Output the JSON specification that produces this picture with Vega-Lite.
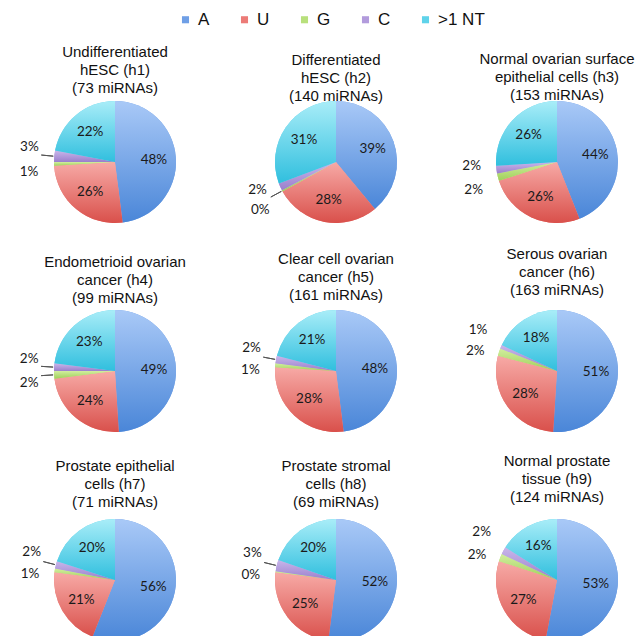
{
  "$schema": "https://vega.github.io/schema/vega-lite/v6.json",
  "background": "white",
  "padding": {"left": 19, "top": 11, "right": 0, "bottom": 0},
  "data": {"values": [
    {"title": "Undifferentiated|hESC (h1)|(73 miRNAs)", "type": "A", "k": 1, "value": 0.48},
    {"title": "Undifferentiated|hESC (h1)|(73 miRNAs)", "type": "U", "k": 2, "value": 0.26},
    {"title": "Undifferentiated|hESC (h1)|(73 miRNAs)", "type": "G", "k": 3, "value": 0.01},
    {"title": "Undifferentiated|hESC (h1)|(73 miRNAs)", "type": "C", "k": 4, "value": 0.03},
    {"title": "Undifferentiated|hESC (h1)|(73 miRNAs)", "type": ">1 NT", "k": 5, "value": 0.22},
    {"title": "Differentiated|hESC (h2)|(140 miRNAs)", "type": "A", "k": 1, "value": 0.39},
    {"title": "Differentiated|hESC (h2)|(140 miRNAs)", "type": "U", "k": 2, "value": 0.28},
    {"title": "Differentiated|hESC (h2)|(140 miRNAs)", "type": "G", "k": 3, "value": 0.003},
    {"title": "Differentiated|hESC (h2)|(140 miRNAs)", "type": "C", "k": 4, "value": 0.02},
    {"title": "Differentiated|hESC (h2)|(140 miRNAs)", "type": ">1 NT", "k": 5, "value": 0.307},
    {"title": "Normal ovarian surface|epithelial cells (h3)|(153 miRNAs)", "type": "A", "k": 1, "value": 0.44},
    {"title": "Normal ovarian surface|epithelial cells (h3)|(153 miRNAs)", "type": "U", "k": 2, "value": 0.26},
    {"title": "Normal ovarian surface|epithelial cells (h3)|(153 miRNAs)", "type": "G", "k": 3, "value": 0.02},
    {"title": "Normal ovarian surface|epithelial cells (h3)|(153 miRNAs)", "type": "C", "k": 4, "value": 0.02},
    {"title": "Normal ovarian surface|epithelial cells (h3)|(153 miRNAs)", "type": ">1 NT", "k": 5, "value": 0.26},
    {"title": "Endometrioid ovarian|cancer (h4)|(99 miRNAs)", "type": "A", "k": 1, "value": 0.49},
    {"title": "Endometrioid ovarian|cancer (h4)|(99 miRNAs)", "type": "U", "k": 2, "value": 0.24},
    {"title": "Endometrioid ovarian|cancer (h4)|(99 miRNAs)", "type": "G", "k": 3, "value": 0.02},
    {"title": "Endometrioid ovarian|cancer (h4)|(99 miRNAs)", "type": "C", "k": 4, "value": 0.02},
    {"title": "Endometrioid ovarian|cancer (h4)|(99 miRNAs)", "type": ">1 NT", "k": 5, "value": 0.23},
    {"title": "Clear cell ovarian|cancer (h5)|(161 miRNAs)", "type": "A", "k": 1, "value": 0.48},
    {"title": "Clear cell ovarian|cancer (h5)|(161 miRNAs)", "type": "U", "k": 2, "value": 0.28},
    {"title": "Clear cell ovarian|cancer (h5)|(161 miRNAs)", "type": "G", "k": 3, "value": 0.01},
    {"title": "Clear cell ovarian|cancer (h5)|(161 miRNAs)", "type": "C", "k": 4, "value": 0.02},
    {"title": "Clear cell ovarian|cancer (h5)|(161 miRNAs)", "type": ">1 NT", "k": 5, "value": 0.21},
    {"title": "Serous ovarian|cancer (h6)|(163 miRNAs)", "type": "A", "k": 1, "value": 0.51},
    {"title": "Serous ovarian|cancer (h6)|(163 miRNAs)", "type": "U", "k": 2, "value": 0.28},
    {"title": "Serous ovarian|cancer (h6)|(163 miRNAs)", "type": "G", "k": 3, "value": 0.02},
    {"title": "Serous ovarian|cancer (h6)|(163 miRNAs)", "type": "C", "k": 4, "value": 0.01},
    {"title": "Serous ovarian|cancer (h6)|(163 miRNAs)", "type": ">1 NT", "k": 5, "value": 0.18},
    {"title": "Prostate epithelial|cells (h7)|(71 miRNAs)", "type": "A", "k": 1, "value": 0.56},
    {"title": "Prostate epithelial|cells (h7)|(71 miRNAs)", "type": "U", "k": 2, "value": 0.21},
    {"title": "Prostate epithelial|cells (h7)|(71 miRNAs)", "type": "G", "k": 3, "value": 0.01},
    {"title": "Prostate epithelial|cells (h7)|(71 miRNAs)", "type": "C", "k": 4, "value": 0.02},
    {"title": "Prostate epithelial|cells (h7)|(71 miRNAs)", "type": ">1 NT", "k": 5, "value": 0.20},
    {"title": "Prostate stromal|cells (h8)|(69 miRNAs)", "type": "A", "k": 1, "value": 0.52},
    {"title": "Prostate stromal|cells (h8)|(69 miRNAs)", "type": "U", "k": 2, "value": 0.25},
    {"title": "Prostate stromal|cells (h8)|(69 miRNAs)", "type": "G", "k": 3, "value": 0.003},
    {"title": "Prostate stromal|cells (h8)|(69 miRNAs)", "type": "C", "k": 4, "value": 0.03},
    {"title": "Prostate stromal|cells (h8)|(69 miRNAs)", "type": ">1 NT", "k": 5, "value": 0.197},
    {"title": "Normal prostate|tissue (h9)|(124 miRNAs)", "type": "A", "k": 1, "value": 0.53},
    {"title": "Normal prostate|tissue (h9)|(124 miRNAs)", "type": "U", "k": 2, "value": 0.27},
    {"title": "Normal prostate|tissue (h9)|(124 miRNAs)", "type": "G", "k": 3, "value": 0.02},
    {"title": "Normal prostate|tissue (h9)|(124 miRNAs)", "type": "C", "k": 4, "value": 0.02},
    {"title": "Normal prostate|tissue (h9)|(124 miRNAs)", "type": ">1 NT", "k": 5, "value": 0.16}
  ]},
  "facet": {
    "field": "title",
    "type": "nominal",
    "sort": [
      "Undifferentiated|hESC (h1)|(73 miRNAs)",
      "Differentiated|hESC (h2)|(140 miRNAs)",
      "Normal ovarian surface|epithelial cells (h3)|(153 miRNAs)",
      "Endometrioid ovarian|cancer (h4)|(99 miRNAs)",
      "Clear cell ovarian|cancer (h5)|(161 miRNAs)",
      "Serous ovarian|cancer (h6)|(163 miRNAs)",
      "Prostate epithelial|cells (h7)|(71 miRNAs)",
      "Prostate stromal|cells (h8)|(69 miRNAs)",
      "Normal prostate|tissue (h9)|(124 miRNAs)"
    ],
    "header": {
      "title": null,
      "labelExpr": "split(datum.value, '|')",
      "labelFont": "Liberation Sans",
      "labelFontSize": 15,
      "labelLineHeight": 18,
      "labelColor": "#111111",
      "labelPadding": -7
    }
  },
  "columns": 3,
  "spacing": {"row": -9, "column": 40},
  "spec": {
    "width": 160,
    "height": 130,
    "view": {"stroke": null},
    "encoding": {
      "theta": {"field": "value", "type": "quantitative", "stack": true, "scale": {"domain": [0, 1]}},
      "order": {"field": "k", "type": "quantitative"}
    },
    "layer": [
      {
        "mark": {"type": "arc", "outerRadius": 61},
        "encoding": {
          "color": {
            "field": "type",
            "type": "nominal",
            "scale": {
              "domain": ["A", "U", "G", "C", ">1 NT"],
              "range": ["#6f9fe6", "#ec7b77", "#b8e07c", "#b29bdc", "#5fd3ea"]
            },
            "legend": {
              "orient": "none",
              "legendX": 142,
              "legendY": -86,
              "direction": "horizontal",
              "title": null,
              "symbolType": "square",
              "symbolSize": 50,
              "symbolStrokeWidth": 0,
              "labelFont": "Liberation Sans",
              "labelFontSize": 17,
              "labelColor": "#111111",
              "labelOffset": 4,
              "columnPadding": 26
            }
          }
        }
      },
      {
        "mark": {"type": "arc", "outerRadius": 61, "fill": {"gradient": "linear", "x1": 0, "y1": 0, "x2": 0, "y2": 1, "stops": [{"offset": 0, "color": "#a9c9f7"}, {"offset": 1, "color": "#4a86d8"}]}},
        "encoding": {"fillOpacity": {"condition": {"test": "datum.type == 'A'", "value": 1}, "value": 0}}
      },
      {
        "mark": {"type": "arc", "outerRadius": 61, "fill": {"gradient": "linear", "x1": 0, "y1": 0, "x2": 0, "y2": 1, "stops": [{"offset": 0, "color": "#f7aaa6"}, {"offset": 1, "color": "#d9504b"}]}},
        "encoding": {"fillOpacity": {"condition": {"test": "datum.type == 'U'", "value": 1}, "value": 0}}
      },
      {
        "mark": {"type": "arc", "outerRadius": 61, "fill": {"gradient": "linear", "x1": 0, "y1": 0, "x2": 0, "y2": 1, "stops": [{"offset": 0, "color": "#d2ee9e"}, {"offset": 1, "color": "#9fd05a"}]}},
        "encoding": {"fillOpacity": {"condition": {"test": "datum.type == 'G'", "value": 1}, "value": 0}}
      },
      {
        "mark": {"type": "arc", "outerRadius": 61, "fill": {"gradient": "linear", "x1": 0, "y1": 0, "x2": 0, "y2": 1, "stops": [{"offset": 0, "color": "#c9b6ea"}, {"offset": 1, "color": "#9a7fcc"}]}},
        "encoding": {"fillOpacity": {"condition": {"test": "datum.type == 'C'", "value": 1}, "value": 0}}
      },
      {
        "mark": {"type": "arc", "outerRadius": 61, "fill": {"gradient": "linear", "x1": 0, "y1": 0, "x2": 0, "y2": 1, "stops": [{"offset": 0, "color": "#a9edf8"}, {"offset": 1, "color": "#30bfde"}]}},
        "encoding": {"fillOpacity": {"condition": {"test": "datum.type == '>1 NT'", "value": 1}, "value": 0}}
      },
      {
        "mark": {"type": "arc", "innerRadius": 62, "outerRadius": 74, "padAngle": 3, "fill": null, "stroke": "#555555", "strokeWidth": 1},
        "encoding": {
          "strokeOpacity": {
            "condition": {"test": "(datum.type == 'C' && test(/h[14578]\\)/, datum.title)) || (datum.type == 'G' && test(/h[24]\\)/, datum.title))", "value": 1},
            "value": 0
          }
        }
      },
      {
        "mark": {"type": "text", "radius": 39, "font": "Lato", "fontSize": 13.5, "color": "#1a1a1a"},
        "encoding": {
          "text": {
            "condition": {"test": "datum.value >= 0.05", "field": "value", "type": "quantitative", "format": ".0%"},
            "value": ""
          }
        }
      },
      {
        "mark": {"type": "text", "radius": 86, "font": "Lato", "fontSize": 13.5, "color": "#1a1a1a",
                 "dy": {"expr": "datum.type == 'C' ? -7 : (datum.type == 'G' ? 7 : 0)"}},
        "encoding": {
          "text": {
            "condition": {"test": "datum.value < 0.05", "field": "value", "type": "quantitative", "format": ".0%"},
            "value": ""
          }
        }
      }
    ]
  }
}
